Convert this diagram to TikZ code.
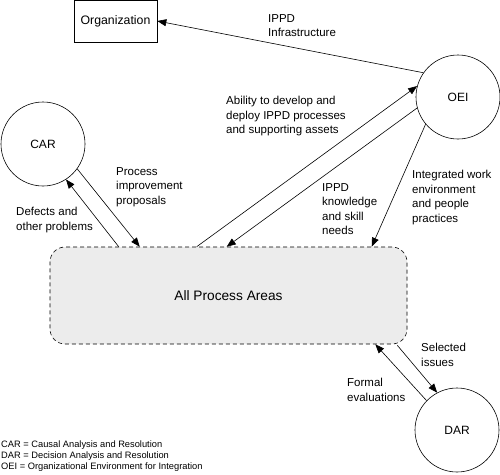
\documentclass[tikz,border=0pt]{standalone}
\usepackage{fontspec}
\setmainfont{Liberation Sans}
\usetikzlibrary{arrows.meta,calc}
\begin{document}
\begin{tikzpicture}[x=1pt,y=-1pt,
  lw/.style={line width=0.6pt},
  arr/.style={lw,-{Triangle[length=9pt,width=7pt]}},
  circ/.style={circle,draw,lw,minimum size=84pt,inner sep=0pt,font=\fontsize{12}{14}\selectfont},
  lbl/.style={anchor=north west,inner sep=0pt,align=left,font=\fontsize{11.5}{14.5}\selectfont},
  legend/.style={anchor=north west,inner sep=0pt,align=left,font=\fontsize{9.3}{11}\selectfont}]
\useasboundingbox (0,0) rectangle (500,474);

\node[draw,lw,minimum width=83pt,minimum height=42pt,inner sep=0pt,font=\fontsize{12.3}{14}\selectfont] (org) at (115.5,21) {Organization};
\node[circ] (oei) at (458,97) {OEI};
\node[circ] (car) at (43,144) {CAR};
\node[circ] (dar) at (457,430) {DAR};
\node[draw,lw,dashed,dash pattern=on 4pt off 3pt,rounded corners=15pt,fill=gray!15,
      minimum width=357pt,minimum height=97pt,inner sep=0pt,font=\fontsize{13.7}{16}\selectfont] (apa) at (228.5,295.5) {All Process Areas};

% connectors
\draw[arr] (oei.145.6) -- (org.east);
\draw[arr] ([xshift=147pt]apa.north west) -- (oei.165);
\draw[arr] (oei.195) -- ([xshift=177pt]apa.north west);
\draw[arr] (oei.220) -- ([xshift=322pt]apa.north west);
\draw[arr] (car.-36.6) -- ([xshift=90pt]apa.north west);
\draw[arr] ([xshift=69pt]apa.north west) -- (car.-57);
\draw[arr] ([xshift=-10pt,yshift=-1pt]apa.south east) -- (dar.118);
\draw[arr] (dar.136) -- ([xshift=-32pt]apa.south east);

% labels
\node[lbl] (l1) at (268,14) {IPPD\\Infrastructure};
\node[lbl] (l2) at (226,96) {Ability to develop and\\deploy IPPD processes\\and supporting assets};
\node[lbl] (l3) at (116,167) {Process\\improvement\\proposals};
\node[lbl] (l4) at (16,207) {Defects and\\other problems};
\node[lbl] (l5) at (322,183) {IPPD\\knowledge\\and skill\\needs};
\node[lbl] (l6) at (412,170) {Integrated work\\environment\\and people\\practices};
\node[lbl] (l7) at (421,343) {Selected\\issues};
\node[lbl] (l8) at (347,378) {Formal\\evaluations};
\node[legend] (leg) at (1,441) {CAR = Causal Analysis and Resolution\\DAR = Decision Analysis and Resolution\\OEI = Organizational Environment for Integration};
\end{tikzpicture}
\end{document}
